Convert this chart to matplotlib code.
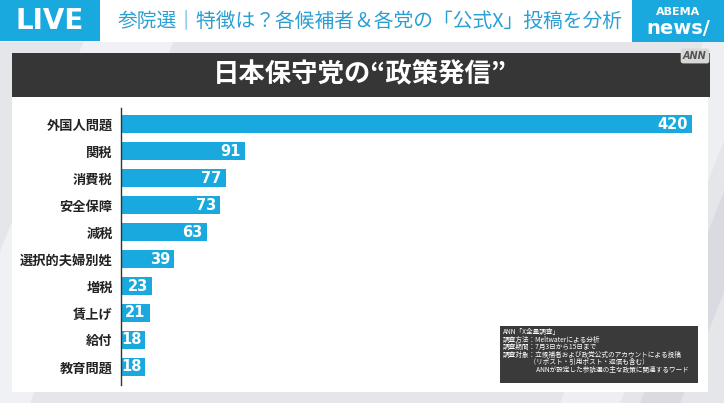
import matplotlib
matplotlib.use("Agg")
import matplotlib.pyplot as plt
from matplotlib.patches import Rectangle, Polygon
import numpy as np

plt.rcParams["font.family"] = ["Noto Sans CJK JP", "DejaVu Sans"]

# data
categories = ["外国人問題", "関税", "消費税", "安全保障", "減税",
              "選択的夫婦別姓", "増税", "賃上げ", "給付", "教育問題"]
values = [420, 91, 77, 73, 63, 39, 23, 21, 18, 18]

header = "参院選｜特徴は？各候補者＆各党の「公式X」投稿を分析"
title = "日本保守党の“政策発信”"
note_lines = [
    "ANN「X全量調査」",
    "調査方法：Meltwaterによる分析",
    "調査期間：7月3日から15日まで",
    "調査対象：立候補者および政党公式のアカウントによる投稿",
    "　　　　（リポスト・引用ポスト・返信も含む）",
    "　　　　　ANNが設定した参院選の主な政策に関連するワード",
]

W, H = 724, 403
BLUE = "#1aa9de"
CYAN_TXT = "#2a9fd3"

fig = plt.figure(figsize=(W / 100, H / 100), dpi=100)
fig.patch.set_facecolor("#e4e6ea")

# background layer in pixel coords (y down)
bg = fig.add_axes([0, 0, 1, 1])
bg.set_xlim(0, W)
bg.set_ylim(H, 0)
bg.axis("off")

# faint diagonal stripes in the backdrop
for x0, w, c in [(-60, 90, "#f0f1f4"), (560, 60, "#eeeff2"), (640, 40, "#d9dbe0")]:
    bg.add_patch(Polygon([(x0, H), (x0 + w, H), (x0 + w + 160, 0), (x0 + 160, 0)],
                         closed=True, color=c, lw=0))

# white chart panel
bg.add_patch(Rectangle((12, 96), 696, 296, color="white", lw=0))

# header strip
bg.add_patch(Rectangle((0, 0), W, 42, color="white", lw=0))
bg.add_patch(Rectangle((0, 0), 100, 41, color=BLUE, lw=0))
bg.text(50, 21, "LIVE", color="white", fontsize=20, fontweight="bold",
        ha="center", va="center", family=["DejaVu Sans"])
bg.text(118, 21, header, color=CYAN_TXT, fontsize=14.2, ha="left", va="center")
bg.add_patch(Rectangle((632, 0), 92, 42, color=BLUE, lw=0))
bg.text(678, 12, "ABEMA", color="white", fontsize=8, fontweight="bold",
        ha="center", va="center", family=["DejaVu Sans"])
bg.text(678, 29, "news/", color="white", fontsize=14, fontweight="bold",
        ha="center", va="center", family=["DejaVu Sans"])

# dark title bar
bg.add_patch(Rectangle((12, 53), 698, 44, color="#363636", lw=0))
bg.text(360, 75, title, color="white", fontsize=19, fontweight="bold",
        ha="center", va="center")
bg.text(695, 56, "ANN", color="#555555", fontsize=7, fontstyle="italic",
        fontweight="bold", ha="center", va="center", family=["DejaVu Sans"],
        bbox=dict(boxstyle="round,pad=0.25", fc="#d8d8d8", ec="none"))

# bar chart axes, placed in pixels
ax_left, ax_right, ax_top, ax_bot = 121, 712, 108, 385
ax = fig.add_axes([ax_left / W, 1 - ax_bot / H,
                   (ax_right - ax_left) / W, (ax_bot - ax_top) / H])
ax.patch.set_alpha(0)
y = np.arange(len(categories))
xmax = 420 * (ax_right - ax_left) / (692 - ax_left)
ax.barh(y, values, height=0.67, color=BLUE, zorder=2)
ax.set_xlim(0, xmax)
ax.set_ylim(9.67, -0.6)
px = xmax / (ax_right - ax_left)
for i, v in enumerate(values):
    ax.text(v - 4 * px, i, str(v), color="white", fontsize=10.5,
            fontweight="bold", ha="right", va="center",
            family=["DejaVu Sans"], zorder=3)
ax.set_yticks(y)
ax.set_yticklabels(categories, fontsize=9.5, fontweight="bold", color="#222222")
ax.tick_params(axis="y", length=0, pad=6)
ax.set_xticks([])
for s in ["top", "right", "bottom"]:
    ax.spines[s].set_visible(False)
ax.spines["left"].set_color("#333333")
ax.spines["left"].set_linewidth(1.0)

# source note box
bg.add_patch(Rectangle((500, 326), 198, 57, color="#3a3a3a", lw=0, zorder=5))
for k, line in enumerate(note_lines):
    bg.text(503, 332 + k * 7.5, line, color="white", fontsize=4.8,
            ha="left", va="center", zorder=6)

fig.savefig("out.png", dpi=100, facecolor=fig.get_facecolor())
